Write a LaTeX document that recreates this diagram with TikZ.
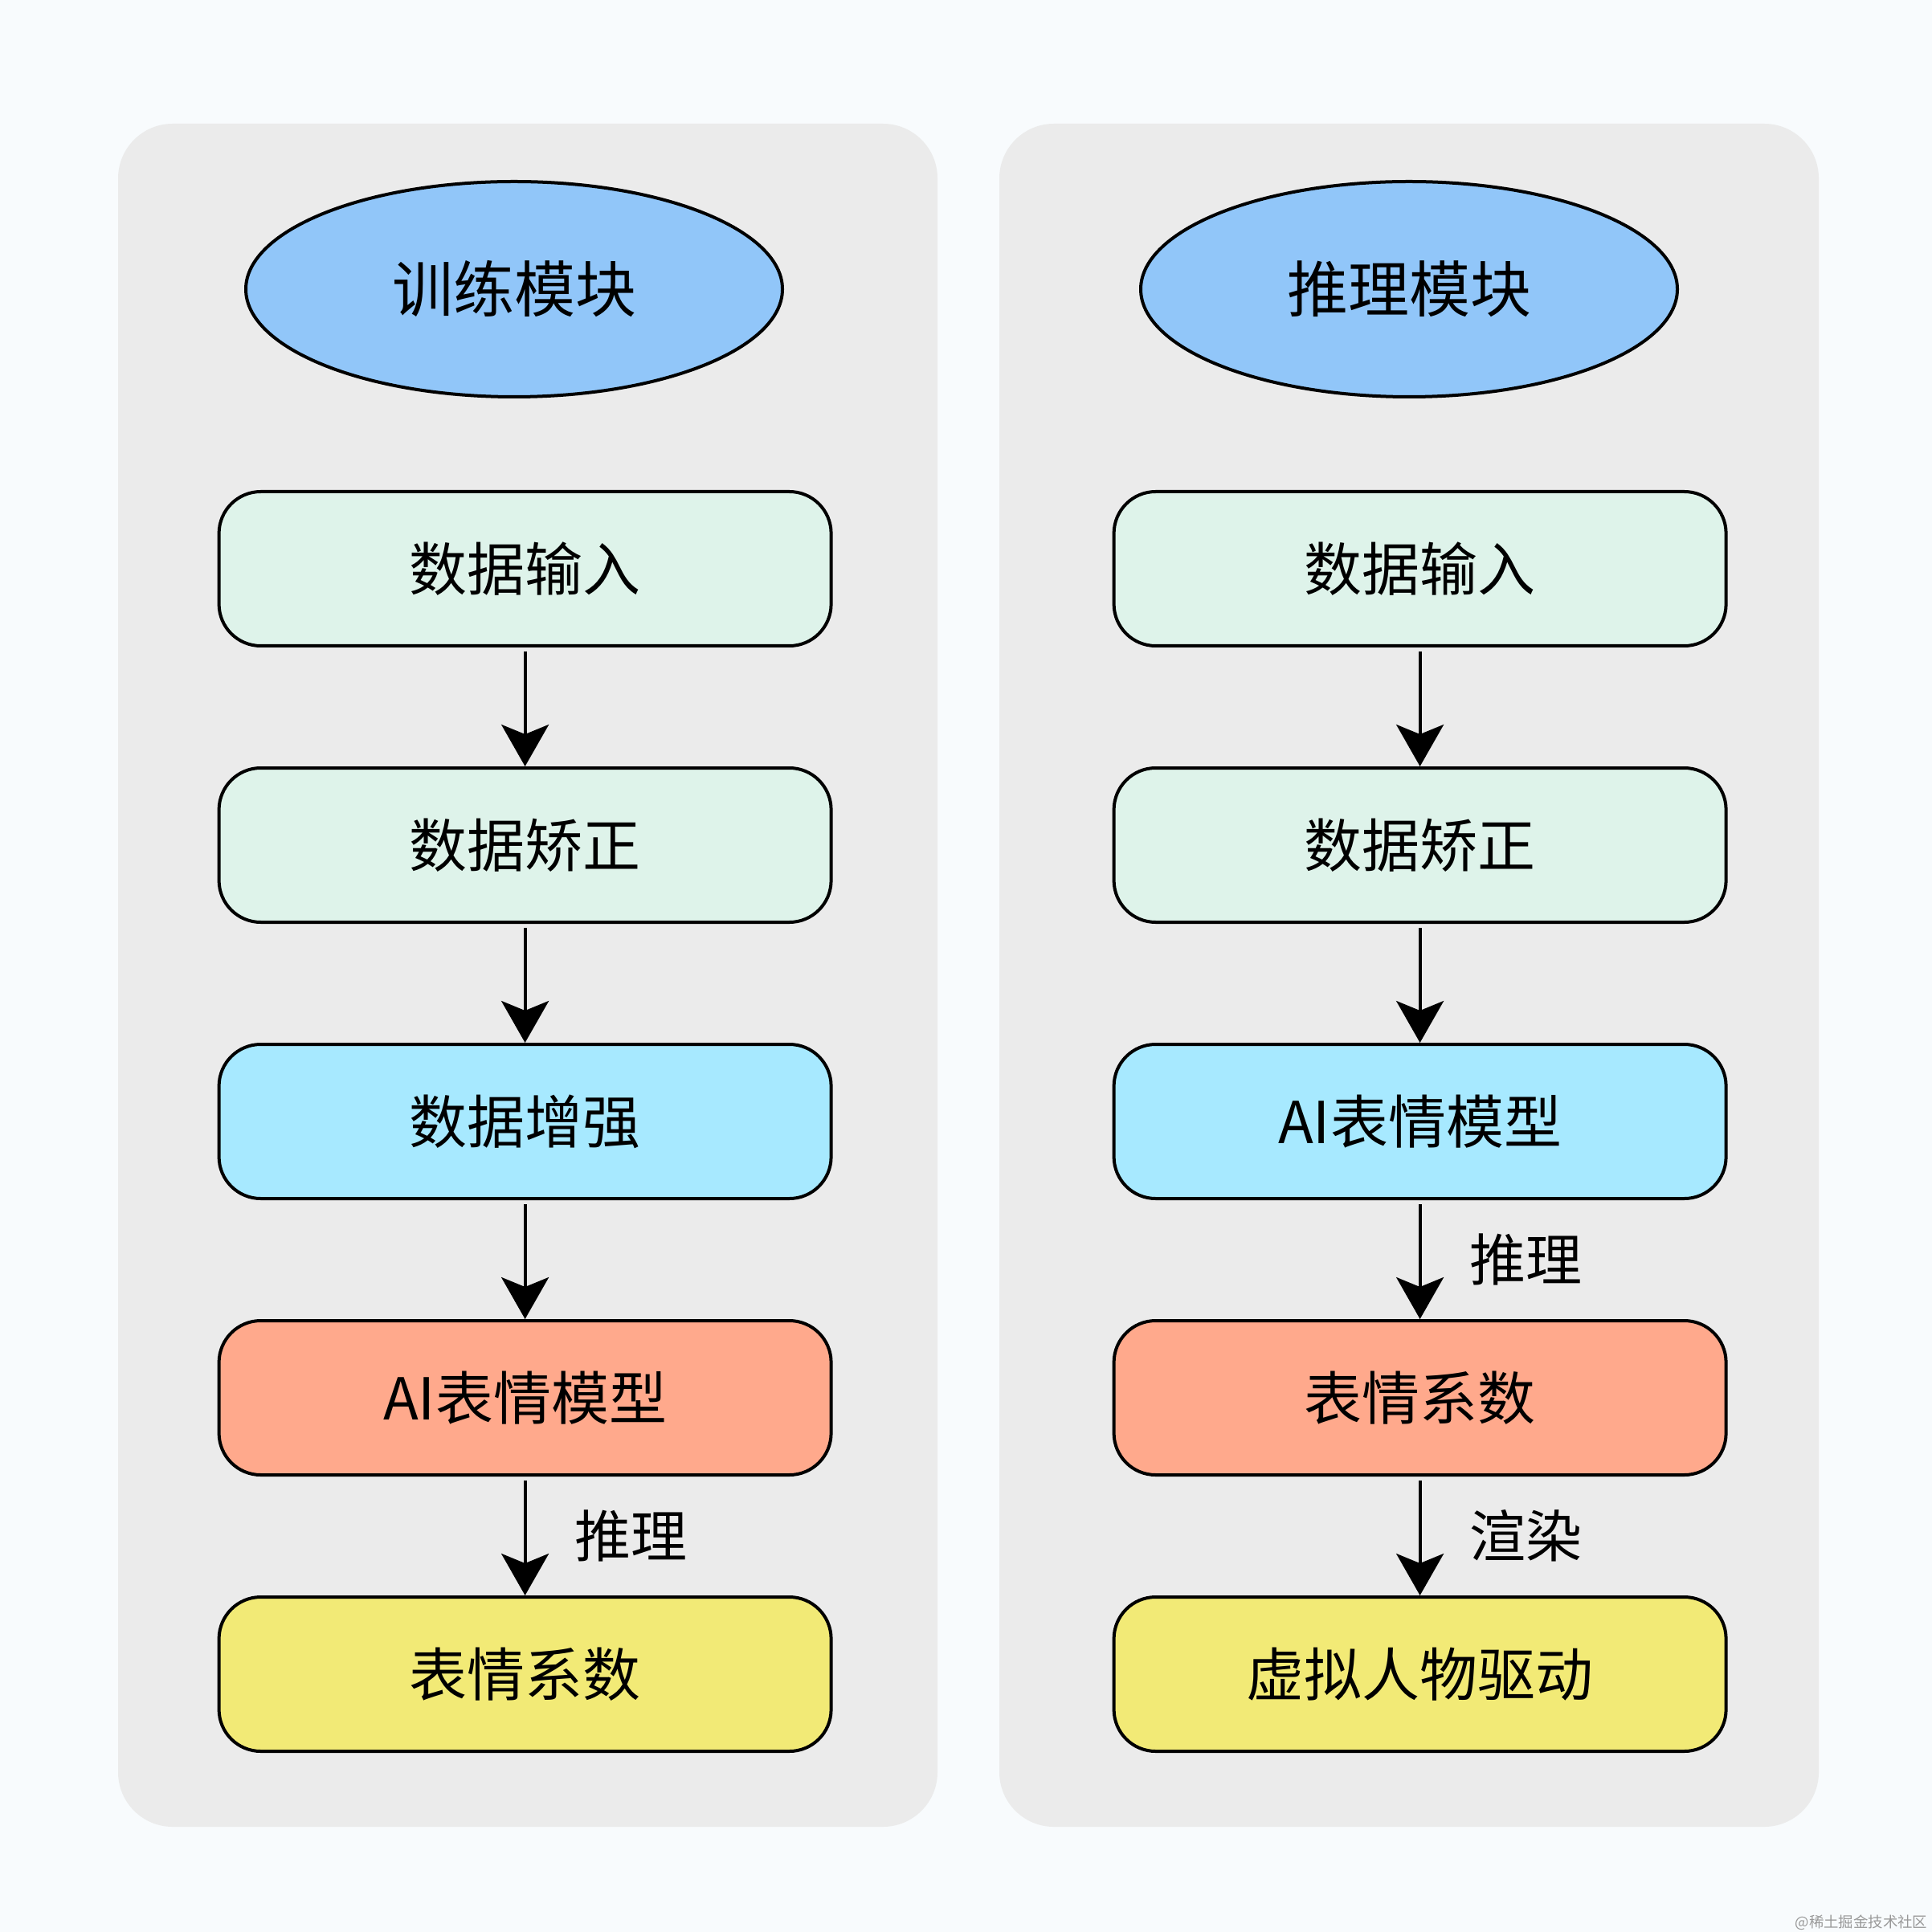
\documentclass[tikz,border=0pt]{standalone}
\usepackage{fontspec}
\setmainfont{Noto Sans CJK SC}
\usetikzlibrary{
  arrows.meta,
  shapes.geometric,
  chains,
  positioning,
  scopes
}
\definecolor{pagebg}{HTML}{F8FBFD}
\definecolor{panelgray}{HTML}{EBEBEB}
\definecolor{headblue}{HTML}{91C6F9}
\definecolor{mint}{HTML}{DEF3EA}
\definecolor{skyblue}{HTML}{A7E9FF}
\definecolor{salmon}{HTML}{FFA98C}
\definecolor{lemon}{HTML}{F2EA76}

\begin{document}
\begin{tikzpicture}[
      panel/.style={
         rectangle,
         rounded corners=17pt,
         fill=panelgray,
         minimum width=255pt,
         minimum height=530pt
      },
      head/.style={
         ellipse,
         line width=1pt,
         draw=black,
         fill=headblue,
         minimum width=167pt,
         minimum height=67pt,
         font=\fontsize{19}{22}\selectfont
      },
      stage/.style={
         rectangle,
         rounded corners=13pt,
         line width=1pt,
         draw=black,
         minimum width=190.5pt,
         minimum height=48pt,
         font=\fontsize{18}{21}\selectfont
      },
      note/.style={inner sep=0pt,font=\fontsize{17.5}{20}\selectfont},
      tip/.style={-{Stealth[length=13pt,width=14.75pt,inset=3pt]},line width=1pt,shorten <=1.25pt},
      node distance=37pt
    ]
    \fill[pagebg] (0,0) rectangle (601.25pt,-601.25pt);
    \useasboundingbox (0,0) rectangle (601.25pt,-601.25pt);
    % two panels
    \node (lp) [panel] at (164.25pt,-303.5pt) {};
    \node (rp) [panel] at (438.5pt,-303.5pt) {};
    % training
    \node (l0) [head] at (160pt,-90pt) {训练模块};
    \node (l1) [stage, fill=mint] at (163.4pt,-177pt) {数据输入};
    \node (l2) [stage, fill=mint, below=of l1] {数据矫正};
    \node (l3) [stage, fill=skyblue, below=of l2] {数据增强};
    \node (l4) [stage, fill=salmon, below=of l3] {AI表情模型};
    \node (l5) [stage, fill=lemon, below=of l4] {表情系数};
    % inference
    \node (r0) [head] at (438.5pt,-90pt) {推理模块};
    \node (r1) [stage, fill=mint] at (441.9pt,-177pt) {数据输入};
    \node (r2) [stage, fill=mint, below=of r1] {数据矫正};
    \node (r3) [stage, fill=skyblue, below=of r2] {AI表情模型};
    \node (r4) [stage, fill=salmon, below=of r3] {表情系数};
    \node (r5) [stage, fill=lemon, below=of r4] {虚拟人物驱动};
  { [start chain]
       \chainin (l1);
       \chainin (l2)    [join=by tip];
       \chainin (l3)    [join=by tip];
       \chainin (l4)    [join=by tip];
  }
  { [start chain]
       \chainin (r1);
       \chainin (r2)    [join=by tip];
       \chainin (r3)    [join=by tip];
  }
    \draw[tip] (l4) -- node[note, right=15pt] {推理} (l5);
    \draw[tip] (r3) -- node[note, right=15pt] {推理} (r4);
    \draw[tip] (r4) -- node[note, right=15pt] {渲染} (r5);
    \node (wm) [inner sep=0pt, anchor=east, text=black!40, font=\fontsize{4.6}{5}\selectfont] at (600pt,-598.25pt) {@稀土掘金技术社区};
\end{tikzpicture}
\end{document}
